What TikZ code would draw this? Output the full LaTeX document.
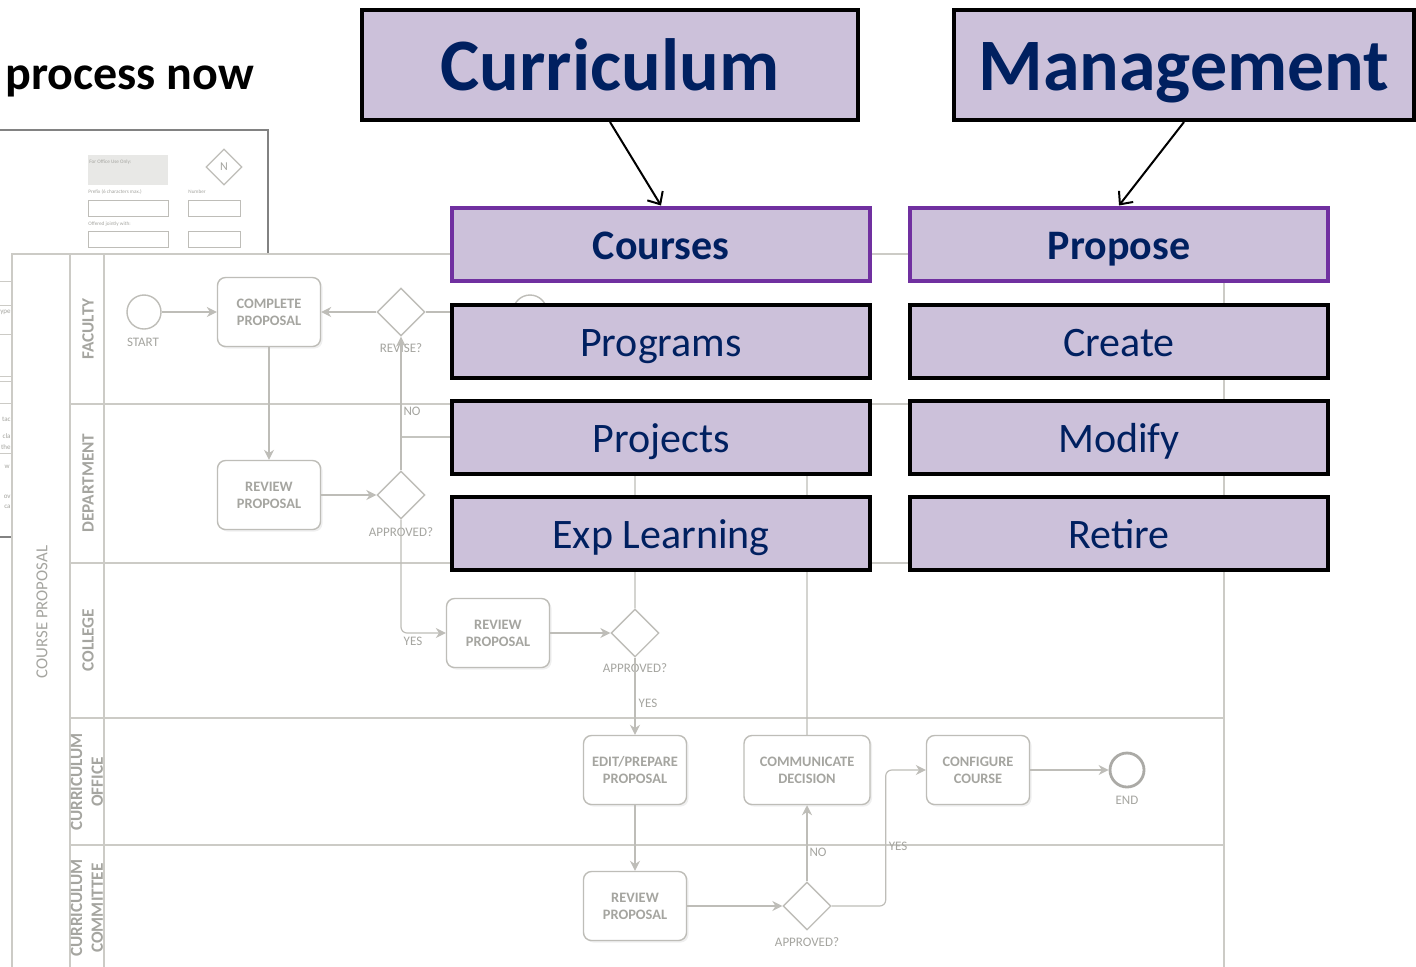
\documentclass[tikz,border=0pt]{standalone}
\usepackage{fontspec}
\setmainfont{Carlito}
\usetikzlibrary{shapes.geometric,arrows.meta,shadows}
\definecolor{lav}{RGB}{204,193,218}
\definecolor{navy}{RGB}{0,32,96}
\definecolor{purp}{RGB}{112,48,160}
\definecolor{lanegray}{RGB}{204,203,198}
\definecolor{taskgray}{RGB}{190,189,184}
\definecolor{txtgray}{RGB}{165,165,160}
\definecolor{formgray}{RGB}{130,130,130}
\definecolor{officegray}{RGB}{232,232,230}

\tikzset{
  lane/.style={draw=lanegray,line width=0.6pt},
  task/.style={draw=taskgray,line width=0.7pt,rounded corners=4pt,fill=white,text=txtgray,align=center,
    font=\fontsize{7.2}{8.4}\selectfont\bfseries,minimum width=51.5pt,minimum height=34.5pt,inner sep=1pt,
    drop shadow={opacity=0.12,shadow xshift=1pt,shadow yshift=-1pt}},
  gate/.style={diamond,draw=taskgray,line width=0.7pt,fill=white,minimum width=24pt,minimum height=24pt,inner sep=0pt},
  event/.style={circle,draw=taskgray,line width=0.7pt,fill=white,minimum size=17pt,inner sep=0pt},
  flow/.style={draw=taskgray,line width=0.6pt,-{Stealth[length=5pt,width=5pt]}},
  lbl/.style={text=txtgray,font=\fontsize{6.5}{7}\selectfont,inner sep=0pt},
  lanelbl/.style={text=txtgray,font=\fontsize{8.6}{10.4}\selectfont\bfseries,rotate=90,align=center,inner sep=0pt},
  frag/.style={text=txtgray,font=\fontsize{3.5}{4}\selectfont,inner sep=0pt,anchor=east},
  tiny/.style={text=txtgray,font=\fontsize{2.6}{3}\selectfont,inner sep=0pt,anchor=west},
  bigbox/.style={draw=black,line width=2pt,fill=lav,text=navy,font=\fontsize{37}{40}\selectfont\bfseries,
    minimum height=55pt,text height=35pt,text depth=10pt,inner sep=0pt},
  headbox/.style={draw=purp,line width=2pt,fill=lav,text=navy,font=\fontsize{21}{24}\selectfont\bfseries,
    minimum width=209pt,minimum height=36.5pt,text height=20pt,text depth=5pt,inner sep=0pt},
  itembox/.style={draw=black,line width=2pt,fill=lav,text=navy,font=\fontsize{21}{24}\selectfont,
    minimum width=209pt,minimum height=36.5pt,text height=20pt,text depth=5pt,inner sep=0pt},
  pointer/.style={draw=black,line width=1pt,-{Straight Barb[length=5pt,width=9pt]}}
}

\begin{document}
\begin{tikzpicture}[x=0.5pt,y=-0.5pt]
\clip (0,0) rectangle (1416,966);
\fill[white] (0,0) rectangle (1416,966);

% form behind the lanes
\draw[formgray,line width=0.6pt] (-10,130) -- (268,130) -- (268,540);
\draw[formgray,line width=1pt] (-10,537) -- (12,537);
\fill[officegray] (88,155) rectangle (168,185);
\node[tiny] (office) at (89,162) {For Office Use Only:};
\node[diamond,draw=taskgray,line width=0.6pt,minimum size=18pt,inner sep=0pt,text=txtgray,font=\fontsize{6}{7}\selectfont] (ndia) at (224,167) {N};
\node[tiny] (prefix) at (88,192) {Prefix (6 characters max.)};
\node[tiny] (number) at (188,192) {Number};
\draw[taskgray,line width=0.5pt] (88,200) rectangle (168,216) (188,200) rectangle (240,216);
\node[tiny] (jointly) at (88,224) {Offered jointly with:};
\draw[taskgray,line width=0.5pt] (88,231) rectangle (168,247) (188,231) rectangle (240,247);
\begin{scope}
\clip (0,254) rectangle (11,540);
\foreach \yy in {281,305,334,376,381,403,453}
  \draw[lanegray,line width=0.5pt] (0,\yy) -- (11,\yy);
\node[frag] (f1) at (11,312) {ype};
\node[frag] (f2) at (11,419) {tac};
\node[frag] (f3) at (11,436) {cla};
\node[frag] (f4) at (11,447) {the};
\node[frag] (f5) at (10,467) {w};
\node[frag] (f6) at (11,497) {ov};
\node[frag] (f7) at (11,507) {ca};
\end{scope}

% swimlanes
\draw[lane,fill=white] (12,254) rectangle (1224,1010);
\draw[lane] (70,254) -- (70,1010) (104,254) -- (104,1010);
\draw[lane] (70,404) -- (1224,404) (70,563) -- (1224,563) (70,718) -- (1224,718) (70,845) -- (1224,845);
\node[text=txtgray,font=\fontsize{8.4}{10}\selectfont,rotate=90,inner sep=0pt] (pool) at (42,612) {COURSE PROPOSAL};
\node[lanelbl] (faculty) at (88,329) {FACULTY};
\node[lanelbl] (dept) at (88,483) {DEPARTMENT};
\node[lanelbl] (college) at (88,640) {COLLEGE};
\node[lanelbl] (office) at (87,782) {CURRICULUM\\OFFICE};
\node[lanelbl] (committee) at (87,908) {CURRICULUM\\COMMITTEE};

% process
\node[event] (start) at (144,312) {};
\node[task] (complete) at (269,312) {COMPLETE\\PROPOSAL};
\node[gate] (revise) at (401,312) {};
\node[event] (endno) at (530,312) {};
\node[task] (deptrev) at (269,495) {REVIEW\\PROPOSAL};
\node[gate] (deptok) at (401,495) {};
\node[task] (collrev) at (498,633) {REVIEW\\PROPOSAL};
\node[gate] (collok) at (635,633) {};
\node[task] (edit) at (635,770) {EDIT/PREPARE\\PROPOSAL};
\node[task,minimum width=63pt] (commit) at (807,770) {COMMUNICATE\\DECISION};
\node[task] (config) at (978,770) {CONFIGURE\\COURSE};
\node[event,line width=1.4pt,draw=taskgray!90!black] (endev) at (1127,770) {};
\node[task] (cmtrev) at (635,906) {REVIEW\\PROPOSAL};
\node[gate] (cmtok) at (807,906) {};
\coordinate (nojoin) at (401,437);

\node[lbl] (startl) at (143,342) {START};
\node[lbl] (revisel) at (401,348) {REVISE?};
\node[lbl] (deptokl) at (401,532) {APPROVED?};
\node[lbl] (collokl) at (635,668) {APPROVED?};
\node[lbl] (cmtokl) at (807,942) {APPROVED?};
\node[lbl] (endl) at (1127,800) {END};
\node[lbl] (no1) at (412,411) {NO};
\node[lbl] (yes1) at (413,641) {YES};
\node[lbl] (yes2) at (648,703) {YES};
\node[lbl] (no2) at (818,852) {NO};
\node[lbl] (yes3) at (898,846) {YES};

\draw[flow] (start) -- (complete);
\draw[flow] (revise) -- (complete);
\draw[flow] (revise) -- (endno);
\draw[flow] (complete) -- (deptrev);
\draw[flow] (deptrev) -- (deptok);
\draw[flow] (deptok) -- (revise);
\draw[flow,rounded corners=3pt] (deptok.south) |- (collrev.west);
\draw[flow] (collrev) -- (collok);
\draw[flow] (collok) -- (edit);
\draw[draw=taskgray,line width=0.6pt,rounded corners=3pt] (collok.north) |- (nojoin);
\draw[draw=taskgray,line width=0.6pt,rounded corners=3pt] (commit.north) |- (nojoin);
\draw[flow] (edit) -- (cmtrev);
\draw[flow] (cmtrev) -- (cmtok);
\draw[flow] (cmtok) -- (commit);
\draw[flow,rounded corners=3pt] (cmtok.east) -- ++(54,0) |- (config.west);
\draw[flow] (config) -- (endev);

% overlay
\node[anchor=base west,font=\fontsize{24}{28}\selectfont\bfseries,inner sep=0pt] (title) at (5,89) {process now};
\node[bigbox,minimum width=248pt] (curr) at (610,65) {Curriculum};
\node[bigbox,minimum width=230pt] (mgmt) at (1184,65) {Management};
\node[headbox] (courses) at (661,244) {Courses};
\node[headbox] (propose) at (1119,244) {Propose};
\node[itembox] (programs) at (661,341) {Programs};
\node[itembox] (create) at (1119,341) {Create};
\node[itembox] (projects) at (661,437) {Projects};
\node[itembox] (modify) at (1119,437) {Modify};
\node[itembox] (explearn) at (661,533) {Exp Learning};
\node[itembox] (retire) at (1119,533) {Retire};
\draw[pointer] (curr.south) -- (courses.north);
\draw[pointer] (mgmt.south) -- (propose.north);
\end{tikzpicture}
\end{document}
